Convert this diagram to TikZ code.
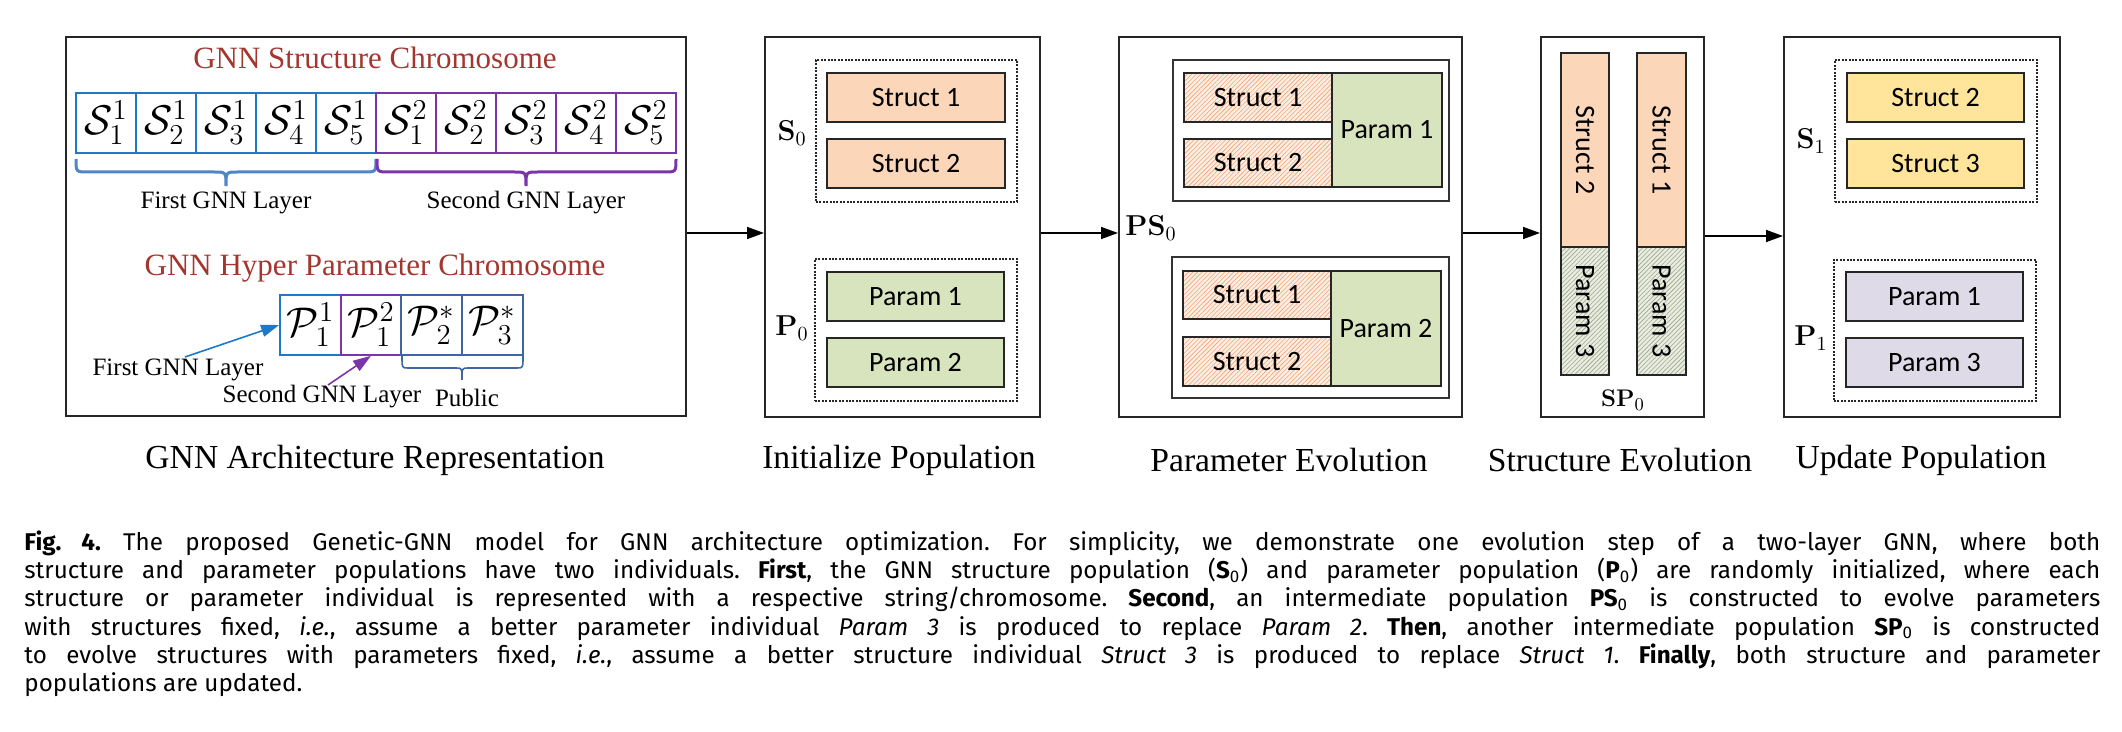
\documentclass[tikz,border=0pt]{standalone}
\usepackage[no-math]{fontspec}
\setmainfont{Liberation Serif}
\newfontfamily\calibri{Carlito}
\newfontfamily\capfont{Fira Sans}
\usetikzlibrary{arrows.meta,patterns.meta}
\newlength\px \setlength\px{0.5pt}
\definecolor{titlered}{HTML}{A3362F}
\definecolor{cblue}{HTML}{1F78C8}
\definecolor{cpurple}{HTML}{7A35A8}
\definecolor{csteel}{HTML}{3E66A3}
\definecolor{bblue}{HTML}{4F86C6}
\definecolor{structfill}{HTML}{FBD6B9}
\definecolor{paramfill}{HTML}{D8E4BE}
\definecolor{yellowfill}{HTML}{FEE59B}
\definecolor{lavfill}{HTML}{DEDAE8}
\definecolor{hatchor}{HTML}{F2A474}
\definecolor{hatchbg}{HTML}{FDEEE3}
\definecolor{hatchgr}{HTML}{9DA68C}
\definecolor{hatchgrbg}{HTML}{E9ECE0}
\begin{document}
\frenchspacing
\begin{tikzpicture}[x=0.5pt,y=-0.5pt,
  wh/.style 2 args={minimum width=#1\px, minimum height=#2\px},
  outer/.style={draw=black!85, line width=1pt, inner sep=0pt},
  inner/.style={draw=black!80, line width=0.7pt, inner sep=0pt},
  dotbox/.style={draw=black!85, line width=0.7pt, dash pattern=on 1pt off 0.7pt, inner sep=0pt},
  ibox/.style={draw=black!85, line width=1pt, inner sep=0pt, font=\calibri\fontsize{14}{16}\selectfont},
  structbox/.style={ibox, fill=structfill},
  parambox/.style={ibox, fill=paramfill},
  yellowbox/.style={ibox, fill=yellowfill},
  lavbox/.style={ibox, fill=lavfill},
  hatchstruct/.style={ibox, preaction={fill=hatchbg}, pattern={Lines[angle=45,distance=1.6pt,line width=0.3pt]}, pattern color=hatchor},
  hatchparam/.style={ibox, preaction={fill=hatchgrbg}, pattern={Lines[angle=45,distance=1.6pt,line width=0.3pt]}, pattern color=hatchgr},
  cell/.style={line width=0.85pt, inner sep=0pt, wh={60}{60}, font=\fontsize{20.74}{24}\selectfont},
  title/.style={text=titlered, font=\fontsize{15.5}{18}\selectfont, inner sep=0pt},
  layer/.style={font=\fontsize{12.5}{14}\selectfont, inner sep=0pt},
  stage/.style={font=\fontsize{16.8}{19}\selectfont, inner sep=0pt},
  lab/.style={font=\fontsize{14.5}{16}\selectfont, inner sep=0pt},
  flow/.style={-{Triangle[length=8.5pt,width=6pt]}, line width=0.8pt},
  smallarrow/.style={-{Triangle[length=9pt,width=6pt]}, line width=0.8pt},
  capline/.style={anchor=base west, inner sep=0pt, font=\capfont\fontsize{12.1}{14}\selectfont}
]
\useasboundingbox (0,0) rectangle (2122,732);

% ---------- outer boxes ----------
\node[outer, wh={620}{379}] (lb) at (376,226.5) {};
\node[outer, wh={275}{380}] (ib) at (902.5,227) {};
\node[outer, wh={343}{380}] (pb) at (1290.5,227) {};
\node[outer, wh={163}{380}] (sb) at (1622.5,227) {};
\node[outer, wh={276}{380}] (ub) at (1922,227) {};

% ---------- flow arrows ----------
\coordinate (ya) at (0,233);
\draw[flow] (lb.east |- ya) -- (ib.west |- ya);
\draw[flow] (ib.east |- ya) -- (pb.west |- ya);
\draw[flow] (pb.east |- ya) -- (sb.west |- ya);
\coordinate (yb) at (0,236);
\draw[flow] (sb.east |- yb) -- (ub.west |- yb);

% ---------- stage labels ----------
\node[stage] (st1) at (375,460) {GNN Architecture Representation};
\node[stage] (st2) at (899,460) {Initialize Population};
\node[stage] (st3) at (1289,460) {Parameter Evolution};
\node[stage] (st4) at (1620,460) {Structure Evolution};
\node[stage] (st5) at (1921,460) {Update Population};

% ---------- left panel ----------
\node[title] (t1) at (375,58) {GNN Structure Chromosome};
\foreach \i in {1,...,5} {
  \node[cell, draw=cblue] (sa\i) at ({46+60*\i},123) {$\mathcal{S}_{\i}^{1}$};
}
\foreach \i in {1,...,5} {
  \node[cell, draw=cpurple] (sb\i) at ({346+60*\i},123) {$\mathcal{S}_{\i}^{2}$};
}
\draw[bblue, line width=1.5pt] (76,159) .. controls (76,172) .. (88,172) -- (214,172)
   .. controls (226,172) .. (226,186) .. controls (226,172) .. (238,172) -- (364,172)
   .. controls (376,172) .. (376,159);
\draw[cpurple, line width=1.5pt] (377,159) .. controls (377,172) .. (389,172) -- (514,172)
   .. controls (526,172) .. (526,186) .. controls (526,172) .. (538,172) -- (664,172)
   .. controls (676,172) .. (676,159);
\node[layer] (fgl) at (226,203) {First GNN Layer};
\node[layer] (sgl) at (526,203) {Second GNN Layer};

\node[title] (t2) at (375,268) {GNN Hyper Parameter Chromosome};
\node[cell, draw=cblue, wh={61}{60}] (p1) at (310.5,325) {$\mathcal{P}_{1}^{1}$};
\node[cell, draw=cpurple, wh={60}{60}] (p2) at (371,325) {$\mathcal{P}_{1}^{2}$};
\node[cell, draw=csteel, wh={61}{60}] (p3) at (431.5,325) {$\mathcal{P}_{2}^{*}$};
\node[cell, draw=csteel, wh={61}{60}] (p4) at (492.5,325) {$\mathcal{P}_{3}^{*}$};
\draw[csteel, line width=0.8pt] (402,356) .. controls (402,368) .. (408,368) -- (456,368)
   .. controls (462,368) .. (462,380) .. controls (462,368) .. (468,368) -- (517,368)
   .. controls (523,368) .. (523,356);
\node[layer] (pub) at (467,398) {Public};
\node[layer] (fgl2) at (178,370) {First GNN Layer};
\node[layer] (sgl2) at (322,397) {Second GNN Layer};
\coordinate (fa) at (185,357);
\coordinate (sa) at (328,385);
\draw[smallarrow, cblue] (fa) -- (p1.west);
\draw[smallarrow, cpurple] (sa) -- (p2.south);

% ---------- initialize population ----------
\node[dotbox, wh={201}{142}] (s0box) at (916.5,131) {};
\node[structbox, wh={178}{49}] (i1) at (916,97.5) {Struct 1};
\node[structbox, wh={178}{49}] (i2) at (916,163.5) {Struct 2};
\node[dotbox, wh={202}{142}] (p0box) at (916,330) {};
\node[parambox, wh={177}{49}] (i3) at (915.5,296.5) {Param 1};
\node[parambox, wh={177}{49}] (i4) at (915.5,362.5) {Param 2};
\node[lab] (s0) at (792,133) {$\mathbf{S}_0$};
\node[lab] (p0) at (792,328) {$\mathbf{P}_0$};

% ---------- parameter evolution ----------
\node[inner, wh={276}{141}] (ua) at (1311,130.5) {};
\node[hatchstruct, wh={148}{49}] (e1) at (1258,97.5) {Struct 1};
\node[hatchstruct, wh={148}{48}] (e2) at (1258,163) {Struct 2};
\node[parambox, wh={110}{114}] (e3) at (1387,130) {Param 1};
\node[inner, wh={277}{141}] (la) at (1310.5,327.5) {};
\node[hatchstruct, wh={148}{48}] (e4) at (1257,295) {Struct 1};
\node[hatchstruct, wh={148}{49}] (e5) at (1257,361.5) {Struct 2};
\node[parambox, wh={110}{115}] (e6) at (1386,328.5) {Param 2};
\node[lab, anchor=west] (ps0) at (1125,228) {$\mathbf{PS}_0$};

% ---------- structure evolution ----------
\node[structbox, rotate=-90, wh={194}{48}] (c1) at (1585,150) {Struct 2};
\node[hatchparam, rotate=-90, wh={128}{48}] (c2) at (1585,311) {Param 3};
\node[structbox, rotate=-90, wh={194}{49}] (c3) at (1661.5,150) {Struct 1};
\node[hatchparam, rotate=-90, wh={128}{49}] (c4) at (1661.5,311) {Param 3};
\node[lab, font=\fontsize{13}{15}\selectfont] (sp0) at (1623,400) {$\mathbf{SP}_0$};

% ---------- update population ----------
\node[dotbox, wh={202}{142}] (s1box) at (1936,131) {};
\node[yellowbox, wh={177}{49}] (u1) at (1935.5,97.5) {Struct 2};
\node[yellowbox, wh={177}{49}] (u2) at (1935.5,163.5) {Struct 3};
\node[dotbox, wh={202}{141}] (p1box) at (1935,330.5) {};
\node[lavbox, wh={177}{49}] (u3) at (1934.5,296.5) {Param 1};
\node[lavbox, wh={177}{49}] (u4) at (1934.5,362.5) {Param 3};
\node[lab] (s1) at (1811,141) {$\mathbf{S}_1$};
\node[lab] (p1l) at (1811,338) {$\mathbf{P}_1$};

% ---------- caption ----------
\node[capline] (c1l) at (24,551) {\makebox[1038pt][s]{\textbf{Fig. 4.} The proposed Genetic-GNN model for GNN architecture optimization. For simplicity, we demonstrate one evolution step of a two-layer GNN, where both}};
\node[capline] (c2l) at (24,579) {\makebox[1038pt][s]{structure and parameter populations have two individuals. \textbf{First}, the GNN structure population (\textbf{S}\textsubscript{0}) and parameter population (\textbf{P}\textsubscript{0}) are randomly initialized, where each}};
\node[capline] (c3l) at (24,607) {\makebox[1038pt][s]{structure or parameter individual is represented with a respective string/chromosome. \textbf{Second}, an intermediate population \textbf{PS}\textsubscript{0} is constructed to evolve parameters}};
\node[capline] (c4l) at (24,635) {\makebox[1038pt][s]{with structures fixed, \textit{i.e.}, assume a better parameter individual \textit{Param 3} is produced to replace \textit{Param 2}. \textbf{Then}, another intermediate population \textbf{SP}\textsubscript{0} is constructed}};
\node[capline] (c5l) at (24,663) {\makebox[1038pt][s]{to evolve structures with parameters fixed, \textit{i.e.}, assume a better structure individual \textit{Struct 3} is produced to replace \textit{Struct 1}. \textbf{Finally}, both structure and parameter}};
\node[capline] (c6l) at (24,691) {populations are updated.};
\end{tikzpicture}
\end{document}
